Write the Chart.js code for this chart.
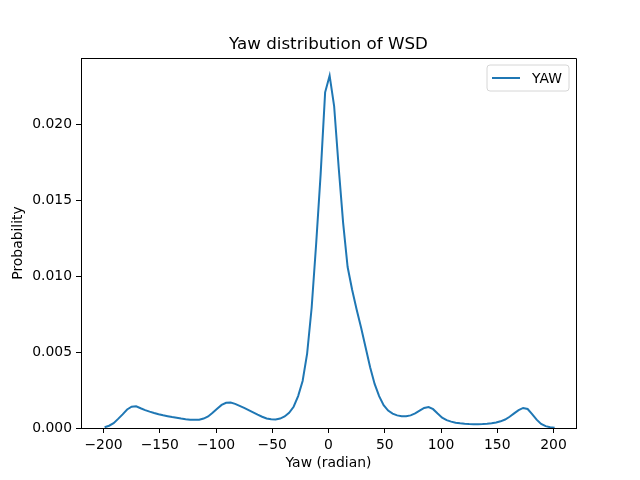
<!DOCTYPE html>
<html>
<head>
<meta charset="utf-8">
<script src="https://cdn.jsdelivr.net/npm/chart.js@4.4.1/dist/chart.umd.min.js"></script>
<style>
html,body{margin:0;padding:0;background:#fff;}
canvas{display:block;}
</style>
</head>
<body>
<canvas id="c" width="640" height="480" style="width:640px;height:480px"></canvas>
<script>
const titleText = 'Yaw distribution of WSD';
const xLabel = 'Yaw (radian)';
const yLabel = 'Probability';
const seriesName = 'YAW';
const xTicks = [-200, -150, -100, -50, 0, 50, 100, 150, 200];
const yTicks = [0, 0.005, 0.010, 0.015, 0.020];

const yawX = [
 -199,-195,-191,-187,-183,-179,-175,-171,-167,-163,
 -159,-155,-151,-147,-143,-139,-135,-131,-127,-123,
 -119,-115,-111,-107,-103,-99,-95,-91,-87,-83,
 -79,-75,-71,-67,-63,-59,-55,-51,-47,-43,
 -39,-35,-31,-27,-23,-19,-15,-11,-7,-3,
 1,5,9,13,17,21,25,29,33,37,
 41,45,49,53,57,61,65,69,73,77,
 81,85,89,93,97,101,105,109,113,117,
 121,125,129,133,137,141,145,149,153,157,
 161,165,169,173,177,181,185,189,193,197,
 201
];
const yawP = [
 0.00005,0.00015,0.00032,0.0006,0.0009,0.00122,0.0014,0.00143,0.0013,0.00118,
 0.00108,0.00099,0.00091,0.00084,0.00078,0.00072,0.00067,0.00062,0.00058,0.00055,
 0.00054,0.00055,0.00062,0.00076,0.001,0.00127,0.00152,0.00166,0.00168,0.00159,
 0.00146,0.00132,0.00118,0.00103,0.00088,0.00074,0.00063,0.00057,0.00056,0.00062,
 0.00076,0.001,0.0014,0.0021,0.0031,0.0049,0.0079,0.0121,0.0167,0.0221,
 0.0232,0.0212,0.0172,0.0135,0.0106,0.0091,0.0078,0.0066,0.0053,0.0040,
 0.0029,0.0021,0.0015,0.00115,0.00095,0.00083,0.00077,0.00077,0.00083,0.00096,
 0.00114,0.00132,0.00138,0.00124,0.00095,0.00068,0.00052,0.00042,0.00035,0.00031,
 0.00028,0.00026,0.00025,0.00025,0.00026,0.00028,0.00031,0.00036,0.00044,0.00056,
 0.00074,0.00096,0.00118,0.00132,0.00125,0.00092,0.00055,0.00027,0.00012,0.00005,
 0.00002
];

const lineColor = '#1f77b4';
const FONT = 'DejaVu Sans';

const points = yawX.map((x, i) => ({x: x, y: yawP[i]}));

const framePlugin = {
  id: 'frameAndLegend',
  afterDraw(chart) {
    const ctx = chart.ctx;
    const a = chart.chartArea;
    ctx.save();
    ctx.strokeStyle = '#000';
    ctx.lineWidth = 1;
    ctx.beginPath();
    ctx.moveTo(Math.round(a.left) + 0.5, Math.round(a.top) + 0.5);
    ctx.lineTo(Math.round(a.right) + 0.5, Math.round(a.top) + 0.5);
    ctx.lineTo(Math.round(a.right) + 0.5, Math.round(a.bottom) + 0.5);
    ctx.stroke();

    // title centred over the plot area (matplotlib style)
    ctx.fillStyle = '#000';
    ctx.font = '16.7px "' + FONT + '"';
    ctx.textAlign = 'center';
    ctx.textBaseline = 'middle';
    ctx.fillText(titleText, (a.left + a.right) / 2, a.top - 13);

    // legend box (matplotlib style, upper right)
    const bw = 82, bh = 26;
    const bx = a.right - 7 - bw, by = a.top + 7;
    const r = 3;
    ctx.beginPath();
    ctx.moveTo(bx + r, by);
    ctx.lineTo(bx + bw - r, by);
    ctx.quadraticCurveTo(bx + bw, by, bx + bw, by + r);
    ctx.lineTo(bx + bw, by + bh - r);
    ctx.quadraticCurveTo(bx + bw, by + bh, bx + bw - r, by + bh);
    ctx.lineTo(bx + r, by + bh);
    ctx.quadraticCurveTo(bx, by + bh, bx, by + bh - r);
    ctx.lineTo(bx, by + r);
    ctx.quadraticCurveTo(bx, by, bx + r, by);
    ctx.closePath();
    ctx.fillStyle = 'rgba(255,255,255,0.8)';
    ctx.fill();
    ctx.strokeStyle = '#d6d6d6';
    ctx.lineWidth = 1;
    ctx.stroke();

    const cy = by + bh / 2;
    ctx.strokeStyle = chart.data.datasets[0].borderColor;
    ctx.lineWidth = 2;
    ctx.beginPath();
    ctx.moveTo(bx + 5, cy);
    ctx.lineTo(bx + 33, cy);
    ctx.stroke();
    ctx.fillStyle = '#000';
    ctx.font = '13.9px "' + FONT + '"';
    ctx.textBaseline = 'middle';
    ctx.textAlign = 'left';
    ctx.fillText(chart.data.datasets[0].label, bx + 45, cy + 1);
    ctx.restore();
  }
};

new Chart(document.getElementById('c'), {
  type: 'line',
  data: {
    datasets: [{
      label: seriesName,
      data: points,
      borderColor: lineColor,
      backgroundColor: lineColor,
      borderWidth: 2,
      pointRadius: 0,
      tension: 0,
      fill: false
    }]
  },
  options: {
    responsive: false,
    animation: false,
    devicePixelRatio: 1,
    layout: { padding: { left: 0, right: 64, top: 58, bottom: 0 } },
    plugins: {
      legend: { display: false },
      tooltip: { enabled: false },
      title: { display: false }
    },
    scales: {
      x: {
        type: 'linear',
        min: -220,
        max: 220,
        afterFit(s) { s.height = 52; },
        afterBuildTicks(s) { s.ticks = xTicks.map(v => ({value: v})); },
        grid: { display: true, drawOnChartArea: false, drawTicks: true, tickLength: 5, color: '#000', lineWidth: 1 },
        border: { display: true, color: '#000', width: 1 },
        ticks: {
          color: '#000',
          padding: 4,
          maxRotation: 0,
          autoSkip: false,
          font: { family: FONT, size: 13.9 },
          callback: v => String(v).replace('-', '\u2212')
        },
        title: {
          display: true,
          text: xLabel,
          color: '#000',
          font: { family: FONT, size: 13.9, lineHeight: 1.2 },
          padding: { top: 0, bottom: 8 }
        }
      },
      y: {
        type: 'linear',
        min: 0,
        max: 0.02436,
        afterFit(s) { s.width = 81; },
        afterBuildTicks(s) { s.ticks = yTicks.map(v => ({value: v})); },
        grid: { display: true, drawOnChartArea: false, drawTicks: true, tickLength: 5, color: '#000', lineWidth: 1 },
        border: { display: true, color: '#000', width: 1 },
        ticks: {
          color: '#000',
          padding: 4,
          autoSkip: false,
          font: { family: FONT, size: 13.9 },
          callback: v => Number(v).toFixed(3)
        },
        title: {
          display: true,
          text: yLabel,
          color: '#000',
          font: { family: FONT, size: 13.9, lineHeight: 1.2 },
          padding: { top: 10, bottom: 0 }
        }
      }
    }
  },
  plugins: [framePlugin]
});
</script>
</body>
</html>
